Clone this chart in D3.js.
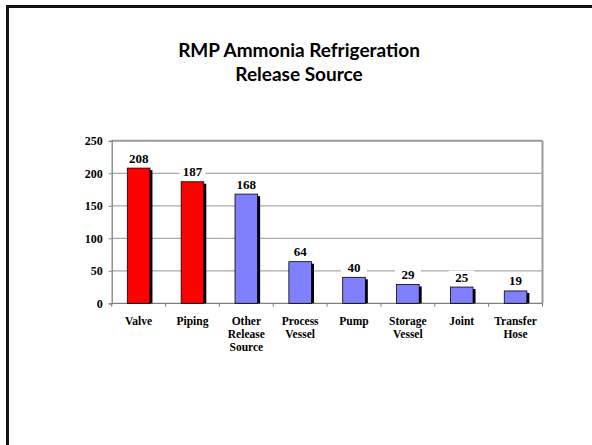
<!DOCTYPE html>
<html><head><meta charset="utf-8">
<script src="https://d3js.org/d3.v7.min.js"></script>
<style>body{margin:0;background:#fff}svg{display:block}</style>
</head><body>
<script>
const categories = ["Valve","Piping","Other Release Source","Process Vessel","Pump","Storage Vessel","Joint","Transfer Hose"];
const categoryLines = [["Valve"],["Piping"],["Other","Release","Source"],["Process","Vessel"],["Pump"],["Storage","Vessel"],["Joint"],["Transfer","Hose"]];
const values = [208,187,168,64,40,29,25,19];
const barColors = ["#FF0000","#FF0000","#8080FF","#8080FF","#8080FF","#8080FF","#8080FF","#8080FF"];
const yTicks = [0,50,100,150,200,250];
const titleLines = ["RMP Ammonia Refrigeration","Release Source"];

const W=592,H=445;
const svg=d3.select("body").append("svg").attr("width",W).attr("height",H);

// slide frame
svg.append("rect").attr("x",7.5).attr("y",6.5).attr("width",W+20).attr("height",H+20)
  .attr("fill","none").attr("stroke","#111").attr("stroke-width",3);

// title
svg.append("g").selectAll("text").data(titleLines).join("text")
  .attr("x",299).attr("y",(d,i)=>56.5+i*24.5)
  .attr("text-anchor","middle").attr("font-family","Lato, 'Open Sans', sans-serif")
  .attr("font-weight","bold").attr("font-size",19).attr("fill","#000").text(d=>d);

const L=111.7,R=542.5,T=140.8,B=303.3;
const x=d3.scaleBand().domain(categories).range([L,R]).paddingInner(0.58).paddingOuter(0.29);
const y=d3.scaleLinear().domain([0,250]).range([B,T]);
const step=(R-L)/categories.length;

// gridlines
svg.append("g").selectAll("line").data(yTicks.filter(d=>d>0)).join("line")
  .attr("x1",L).attr("x2",R).attr("y1",d=>y(d)).attr("y2",d=>y(d))
  .attr("stroke",d=>d===250?"#9a9a9a":"#a8a8a8").attr("stroke-width",d=>d===250?2:1.2);
// right border
svg.append("line").attr("x1",R).attr("x2",R).attr("y1",T).attr("y2",B)
  .attr("stroke","#9a9a9a").attr("stroke-width",2);

// y axis
const yAxis=d3.axisLeft(y).tickValues(yTicks).tickSize(3).tickPadding(6);
const gy=svg.append("g").attr("transform",`translate(${L},0)`).call(yAxis)
  .attr("font-family","'Liberation Serif','Times New Roman',serif").attr("font-size",12);
gy.select(".domain").attr("stroke","#808080").attr("stroke-width",1.3);
gy.selectAll(".tick line").attr("stroke","#808080");
gy.selectAll("text").style("font-family","'Liberation Serif','Times New Roman',serif")
  .attr("font-weight","bold").style("font-size","12px").attr("fill","#000");

// x axis line + ticks
svg.append("line").attr("x1",L).attr("x2",R).attr("y1",B).attr("y2",B)
  .attr("stroke","#808080").attr("stroke-width",1.3);
svg.append("g").selectAll("line").data(d3.range(categories.length+1)).join("line")
  .attr("x1",i=>L+i*step).attr("x2",i=>L+i*step).attr("y1",B).attr("y2",B+3.5)
  .attr("stroke","#808080");

// bars: shadow then bar
const bars=svg.append("g");
bars.selectAll("rect.sh").data(values).join("rect").attr("class","sh")
  .attr("x",(d,i)=>x(categories[i])+2.5).attr("y",d=>y(d)+2)
  .attr("width",x.bandwidth()).attr("height",d=>B-y(d)-2).attr("fill","#000");
bars.selectAll("rect.b").data(values).join("rect").attr("class","b")
  .attr("x",(d,i)=>x(categories[i])).attr("y",d=>y(d))
  .attr("width",x.bandwidth()).attr("height",d=>B-y(d))
  .attr("fill",(d,i)=>barColors[i]).attr("stroke","#000").attr("stroke-width",0.8);

// value labels
const vl=svg.append("g");
values.forEach((v,i)=>{
  const cx=x(categories[i])+x.bandwidth()/2;
  const by=y(v)-5.5;
  vl.append("rect").attr("x",cx-13).attr("y",by-11).attr("width",26).attr("height",14).attr("fill","#fff");
  vl.append("text").attr("x",cx).attr("y",by).attr("text-anchor","middle")
    .attr("font-family","'Liberation Serif','Times New Roman',serif").attr("font-weight","bold")
    .attr("font-size",13).attr("fill","#000").text(v);
});

// category labels
const cl=svg.append("g");
categoryLines.forEach((lines,i)=>{
  const cx=x(categories[i])+x.bandwidth()/2;
  lines.forEach((t,j)=>{
    cl.append("text").attr("x",cx).attr("y",324.5+j*13).attr("text-anchor","middle")
      .attr("font-family","'Liberation Serif','Times New Roman',serif").attr("font-weight","bold")
      .attr("font-size",11.5).attr("fill","#000").text(t);
  });
});
</script>
</body></html>
